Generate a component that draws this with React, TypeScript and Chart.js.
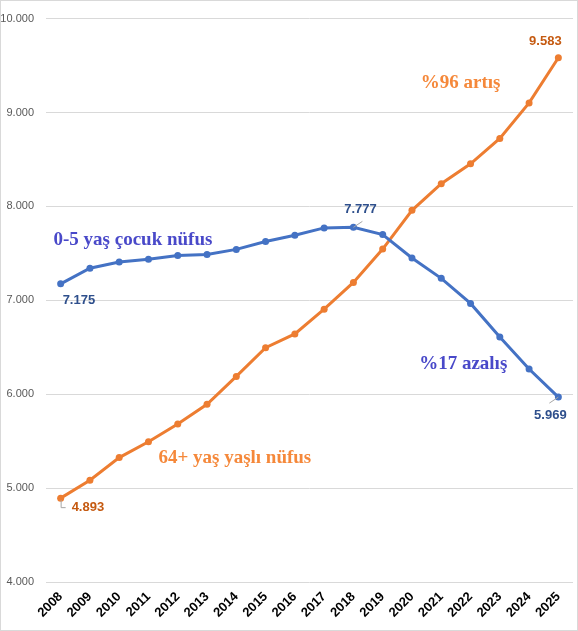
import { useEffect, useRef } from "react";
import { Chart, registerables } from "chart.js";

Chart.register(...registerables);

// Years on the category axis
const years = [
  "2008", "2009", "2010", "2011", "2012", "2013", "2014", "2015", "2016",
  "2017", "2018", "2019", "2020", "2021", "2022", "2023", "2024", "2025",
];

// Population aged 0-5 (thousands)
const childPop = [
  7175, 7341, 7407, 7436, 7478, 7489, 7542, 7626, 7692,
  7771, 7777, 7700, 7451, 7234, 6967, 6609, 6268, 5969,
];

// Population aged 64+ (thousands)
const elderlyPop = [
  4893, 5084, 5325, 5493, 5682, 5892, 6189, 6495, 6642,
  6905, 7190, 7546, 7958, 8242, 8453, 8724, 9102, 9583,
];

const yMin = 4000;
const yMax = 10000;
const yStep = 1000;

const BLUE = "#4472C4";
const ORANGE = "#ED7D31";
const BLUE_LABEL = "#2E4F8C";
const ORANGE_LABEL = "#C55A11";
const BLUE_NOTE = "#4949C9";
const ORANGE_NOTE = "#F5883A";

// Thousands separator in Turkish style: 7175 -> "7.175"
const fmt = (v: number) => String(Math.round(v)).replace(/\B(?=(\d{3})+(?!\d))/g, ".");

// Point value labels: which series/point, label offset, optional leader line
type ValueLabel = {
  series: number;
  index: number;
  dx: number;
  dy: number;
  align: CanvasTextAlign;
  leader?: "diag" | "elbow";
};

const valueLabels: ValueLabel[] = [
  { series: 0, index: 0, dx: 2, dy: 17, align: "left" },
  { series: 0, index: 10, dx: 7, dy: -18, align: "center", leader: "diag" },
  { series: 0, index: 17, dx: -8, dy: 18, align: "center", leader: "diag" },
  { series: 1, index: 0, dx: 11, dy: 9, align: "left", leader: "elbow" },
  { series: 1, index: 17, dx: -13, dy: -16, align: "center" },
];

// Free text notes, anchored in category index / value units
type Note = { text: string; at: number; value: number; color: string };

const notes: Note[] = [
  { text: "0-5 yaş çocuk nüfus", at: 2.47, value: 7640, color: BLUE_NOTE },
  { text: "%17 azalış", at: 13.75, value: 6317, color: BLUE_NOTE },
  { text: "%96 artış", at: 13.66, value: 9312, color: ORANGE_NOTE },
  { text: "64+ yaş yaşlı nüfus", at: 5.95, value: 5323, color: ORANGE_NOTE },
];

const framePlugin = {
  id: "frame",
  beforeDraw(chart: any) {
    const { ctx, width, height } = chart;
    ctx.save();
    ctx.fillStyle = "#ffffff";
    ctx.fillRect(0, 0, width, height);
    ctx.restore();
  },
  afterDraw(chart: any) {
    const { ctx, width, height } = chart;
    ctx.save();
    ctx.strokeStyle = "#D9D9D9";
    ctx.lineWidth = 1;
    ctx.strokeRect(0.5, 0.5, width - 1, height - 1);
    ctx.restore();
  },
};

const labelsPlugin = {
  id: "valueLabels",
  afterDatasetsDraw(chart: any) {
    const { ctx } = chart;
    const xs = chart.scales.x;
    const ys = chart.scales.y;

    // notes
    ctx.save();
    ctx.font = 'bold 19px "Liberation Serif", "Times New Roman", serif';
    ctx.textAlign = "center";
    ctx.textBaseline = "middle";
    for (const n of notes) {
      ctx.fillStyle = n.color;
      ctx.fillText(n.text, xs.getPixelForValue(n.at), ys.getPixelForValue(n.value));
    }
    ctx.restore();

    // value labels
    ctx.save();
    ctx.font = 'bold 13px "Liberation Sans", Arial, sans-serif';
    ctx.textBaseline = "middle";
    for (const l of valueLabels) {
      const ds = chart.data.datasets[l.series];
      const v = ds.data[l.index] as number;
      const px = xs.getPixelForValue(l.index);
      const py = ys.getPixelForValue(v);
      const lx = px + l.dx;
      const ly = py + l.dy;
      if (l.leader) {
        ctx.strokeStyle = "#A6A6A6";
        ctx.lineWidth = 1;
        ctx.beginPath();
        if (l.leader === "diag") {
          const sx = l.dx >= 0 ? 1 : -1;
          ctx.moveTo(px, py);
          ctx.lineTo(px + sx * 9, py + (l.dy > 0 ? 6 : -6));
        } else {
          ctx.moveTo(px + 0.5, py + 2);
          ctx.lineTo(px + 0.5, ly + 0.5);
          ctx.lineTo(px + 5, ly + 0.5);
        }
        ctx.stroke();
      }
      ctx.fillStyle = l.series === 0 ? BLUE_LABEL : ORANGE_LABEL;
      ctx.textAlign = l.align;
      ctx.fillText(fmt(v), lx, ly);
    }
    ctx.restore();
  },
};

export default function App() {
  const canvasRef = useRef<HTMLCanvasElement | null>(null);

  useEffect(() => {
    if (!canvasRef.current) return;
    const chart = new Chart(canvasRef.current, {
      type: "line",
      data: {
        labels: years,
        datasets: [
          {
            label: "0-5 yaş çocuk nüfus",
            data: childPop,
            borderColor: BLUE,
            backgroundColor: BLUE,
            borderWidth: 3,
            pointRadius: 3.5,
            pointBorderWidth: 0,
            pointBackgroundColor: BLUE,
            tension: 0,
          },
          {
            label: "64+ yaş yaşlı nüfus",
            data: elderlyPop,
            borderColor: ORANGE,
            backgroundColor: ORANGE,
            borderWidth: 3,
            pointRadius: 3.5,
            pointBorderWidth: 0,
            pointBackgroundColor: ORANGE,
            tension: 0,
          },
        ],
      },
      options: {
        responsive: false,
        animation: false,
        layout: { padding: { top: 12, right: 5, left: 0, bottom: 0 } },
        plugins: {
          legend: { display: false },
          tooltip: { enabled: false },
        },
        scales: {
          x: {
            offset: true,
            grid: { display: false, drawTicks: false },
            border: { display: false },
            ticks: {
              color: "#000000",
              font: { family: '"Liberation Sans", Arial, sans-serif', size: 13, weight: "bold" },
              minRotation: 45,
              maxRotation: 45,
              padding: 7,
              autoSkip: false,
            },
            afterFit(scale: any) {
              scale.height = 49;
            },
          },
          y: {
            min: yMin,
            max: yMax,
            grid: { color: "#D9D9D9", drawTicks: false, lineWidth: 1 },
            border: { display: false },
            ticks: {
              stepSize: yStep,
              color: "#595959",
              padding: 12,
              font: { family: '"Liberation Sans", Arial, sans-serif', size: 11 },
              callback: (v: any) => fmt(Number(v)),
            },
            afterFit(scale: any) {
              scale.width = 46;
            },
          },
        },
      },
      plugins: [framePlugin, labelsPlugin],
    });
    return () => chart.destroy();
  }, []);

  return (
    <div style={{ position: "fixed", left: 0, top: 0, width: 578, height: 631 }}>
      <canvas ref={canvasRef} width={578} height={631} style={{ display: "block" }} />
    </div>
  );
}
